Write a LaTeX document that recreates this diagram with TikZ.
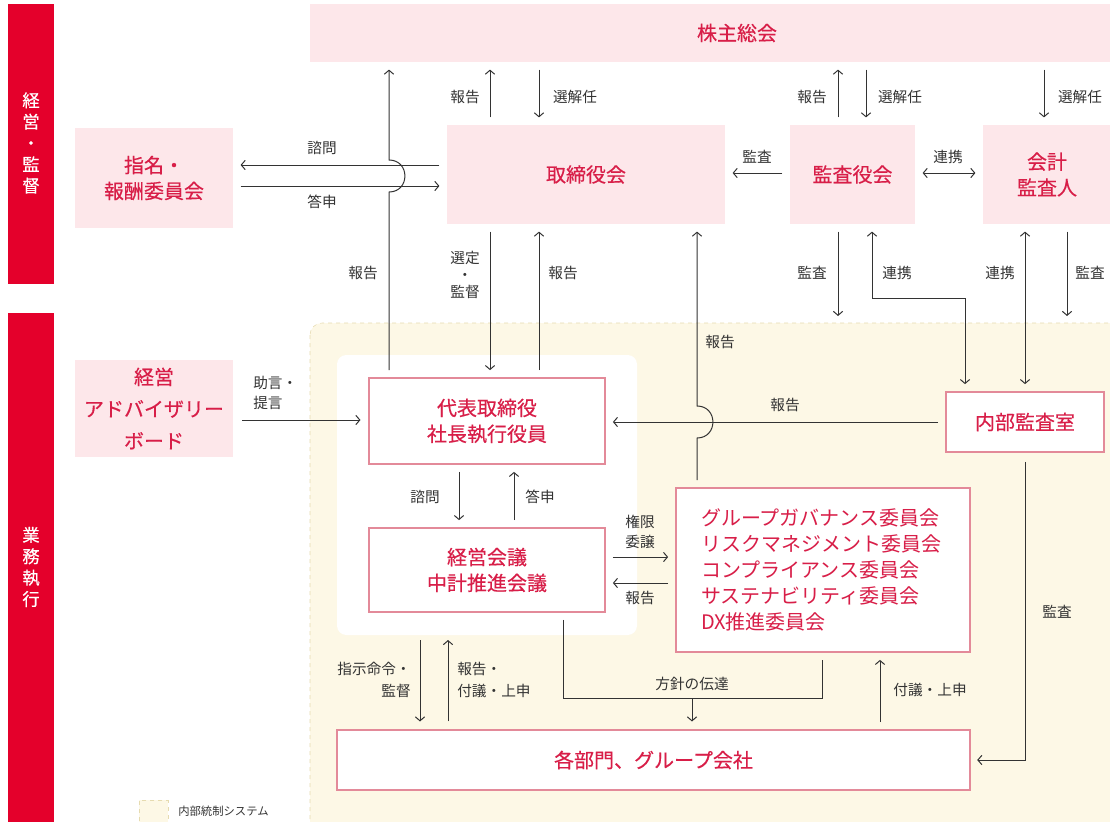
\documentclass[tikz,border=0pt]{standalone}
\usepackage{fontspec}
\setmainfont{Noto Sans CJK JP}
\newfontfamily\boxfont{Noto Sans CJK JP}[FakeBold=0.4]
\usetikzlibrary{arrows.meta}
\definecolor{barred}{HTML}{E4002B}
\definecolor{pinkfill}{HTML}{FDE7EA}
\definecolor{boxred}{HTML}{D81E48}
\definecolor{edgered}{HTML}{E38A99}
\definecolor{creamfill}{HTML}{FDF8E6}
\definecolor{creamedge}{HTML}{E6DBB0}
\definecolor{arrowgray}{HTML}{333333}

\begin{document}
\begin{tikzpicture}[x=0.75pt,y=-0.75pt,
	>={Straight Barb[length=3pt,width=7pt]},
	pinkbox/.style={rectangle,fill=pinkfill,inner sep=0pt,text=boxred,align=center,
		font=\boxfont\fontsize{15}{19.4}\selectfont},
	whitebox/.style={rectangle,draw=edgered,line width=0.8pt,fill=white,inner sep=0pt,
		text=boxred,align=center,font=\boxfont\fontsize{15}{19.4}\selectfont},
	sidetext/.style={text=white,align=center,font=\boxfont\fontsize{13}{16}\selectfont},
	lbl/.style={text=arrowgray,inner sep=0pt,align=center,font=\fontsize{11}{13}\selectfont},
	line/.style={draw=arrowgray,line width=0.75pt},
	gapped/.style={shorten <=5.5pt,shorten >=5.5pt}]

	\useasboundingbox (0,0) rectangle (1110,821);

	% background areas
	\draw[dashed,draw=creamedge,fill=creamfill,rounded corners=9pt] (310,323) rectangle (1140,850);
	\fill[white,rounded corners=7pt] (337,355) rectangle (637,635);
	\fill[barred] (8,4) rectangle (54,284);
	\fill[barred] (8,313) rectangle (54,830);
	\node[sidetext] (sideTop) at (31,143) {経\\営\\・\\監\\督};
	\node[sidetext] (sideBot) at (31,567) {業\\務\\執\\行};

	% boxes
	\node[pinkbox,minimum width=640.5pt,minimum height=43.5pt] (gm) at (737,33) {株主総会};
	\node[pinkbox,minimum width=118.5pt,minimum height=75pt] (nom) at (154,178) {指名・\\報酬委員会};
	\node[pinkbox,minimum width=208.5pt,minimum height=74.25pt] (board) at (586,174.5) {取締役会};
	\node[pinkbox,minimum width=93.75pt,minimum height=74.25pt] (kansa) at (852.5,174.5) {監査役会};
	\node[pinkbox,minimum width=96pt,minimum height=74.25pt] (acct) at (1047,174.5) {会計\\監査人};
	\node[pinkbox,minimum width=118.5pt,minimum height=72.75pt,font=\boxfont\fontsize{15}{24}\selectfont] (adv) at (154,408.5) {経営\\アドバイザリー\\ボード};
	\node[whitebox,minimum width=177pt,minimum height=64.5pt] (ceo) at (487,421) {代表取締役\\社長執行役員};
	\node[whitebox,minimum width=177pt,minimum height=63pt] (mtg) at (487,570) {経営会議\\中計推進会議};
	\node[whitebox,minimum width=220.5pt,minimum height=123pt,text width=183pt,align=left,
		font=\fontsize{15}{19.4}\selectfont] (com) at (823,570)
		{グループガバナンス委員会\\リスクマネジメント委員会\\コンプライアンス委員会\\サステナビリティ委員会\\DX推進委員会};
	\node[whitebox,minimum width=118.5pt,minimum height=45pt] (aud) at (1025,422) {内部監査室};
	\node[whitebox,minimum width=474.75pt,minimum height=45pt] (dept) at (653.5,760) {各部門、グループ会社};

	% free ends
	\coordinate (kansaOut) at (838,316);
	\coordinate (acctOut) at (1067,316);
	\coordinate (advOut) at (242,420);
	\coordinate (policy) at (692,698);
	\coordinate (cmdTop) at (420,640);
	\coordinate (repTop) at (448,640);

	% top level
	\draw[line,->,gapped] (ceo.north -| 389,0) -- (389,192) to[out=0,in=0,looseness=1.7] (389,160) -- (gm.south -| 389,0);
	\node[lbl] (lRep0) at (363,273) {報告};
	\draw[line,->,gapped] (board.west |- 0,165) -- (nom.east |- 0,165);
	\node[lbl] (lAsk0) at (322,148) {諮問};
	\draw[line,->,gapped] (nom.east |- 0,186) -- (board.west |- 0,186);
	\node[lbl] (lAns0) at (322,202) {答申};

	\draw[line,->,gapped] (board.north -| 490,0) -- (gm.south -| 490,0);
	\node[lbl] (lRep1) at (465,97) {報告};
	\draw[line,->,gapped] (gm.south -| 539,0) -- (board.north -| 539,0);
	\node[lbl] (lSel1) at (575,97) {選解任};
	\draw[line,->,gapped] (kansa.north -| 838,0) -- (gm.south -| 838,0);
	\node[lbl] (lRep2) at (812,97) {報告};
	\draw[line,->,gapped] (gm.south -| 866,0) -- (kansa.north -| 866,0);
	\node[lbl] (lSel2) at (900,97) {選解任};
	\draw[line,->,gapped] (gm.south -| 1044,0) -- (acct.north -| 1044,0);
	\node[lbl] (lSel3) at (1080,97) {選解任};

	\draw[line,->,gapped] (kansa.west |- 0,173) -- (board.east |- 0,173);
	\node[lbl] (lAud1) at (757,157) {監査};
	\draw[line,<->,gapped] (kansa.east |- 0,173) -- (acct.west |- 0,173);
	\node[lbl] (lLink1) at (948,157) {連携};

	% board to execution
	\draw[line,->,gapped] (board.south -| 490,0) -- (ceo.north -| 490,0);
	\node[lbl,font=\fontsize{11}{12.5}\selectfont] (lSup) at (465,275) {選定\\・\\監督};
	\draw[line,->,gapped] (ceo.north -| 539,0) -- (board.south -| 539,0);
	\node[lbl] (lRep3) at (563,273) {報告};
	\draw[line,->,gapped] (com.north -| 697,0) -- (697,438) to[out=0,in=0,looseness=1.7] (697,406) -- (board.south -| 697,0);
	\node[lbl] (lRep4) at (720,342) {報告};

	\draw[line,->,shorten <=5.5pt] (kansa.south -| kansaOut) -- (kansaOut);
	\node[lbl] (lAud2) at (812,273) {監査};
	\draw[line,<->,gapped] (kansa.south -| 872,0) -- (872,298) -- (965,298) -- (aud.north -| 965,0);
	\node[lbl] (lLink2) at (897,273) {連携};
	\draw[line,<->,gapped] (acct.south -| 1025,0) -- (aud.north -| 1025,0);
	\node[lbl] (lLink3) at (1000,273) {連携};
	\draw[line,->,shorten <=5.5pt] (acct.south -| acctOut) -- (acctOut);
	\node[lbl] (lAud3) at (1090,273) {監査};

	% execution
	\draw[line,->,shorten >=6pt] (advOut) -- (ceo.west |- advOut);
	\node[lbl,anchor=west,align=left,font=\fontsize{11}{15}\selectfont] (lAdv) at (253,393) {助言・\\提言};
	\draw[line,->,gapped] (aud.west) -- (ceo.east |- aud.west);
	\node[lbl] (lRep5) at (785,405) {報告};

	\draw[line,->,gapped] (ceo.south -| 459,0) -- (mtg.north -| 459,0);
	\node[lbl] (lAsk1) at (425,497) {諮問};
	\draw[line,->,gapped] (mtg.north -| 514,0) -- (ceo.south -| 514,0);
	\node[lbl] (lAns1) at (540,497) {答申};

	\draw[line,->,gapped] (mtg.east |- 0,557) -- (com.west |- 0,557);
	\node[lbl,font=\fontsize{11}{15}\selectfont] (lDel) at (640,532) {権限\\委譲};
	\draw[line,->,gapped] (com.west |- 0,583) -- (mtg.east |- 0,583);
	\node[lbl] (lRep6) at (640,598) {報告};

	\draw[line,gapped] (mtg.south -| 563,0) -- (563,698) -- (822,698) -- (com.south -| 822,0);
	\draw[line,->,shorten >=6pt] (policy) -- (dept.north -| policy);
	\node[lbl] (lPol) at (692,684) {方針の伝達};
	\draw[line,->,gapped] (dept.north -| 880,0) -- (com.south -| 880,0);
	\node[lbl] (lSub1) at (930,690) {付議・上申};

	\draw[line,->,shorten >=6pt] (cmdTop) -- (dept.north -| cmdTop);
	\node[lbl,anchor=east,align=right,font=\fontsize{11}{17}\selectfont] (lCmd) at (411,680) {指示命令・\\監督};
	\draw[line,->,shorten <=6pt] (dept.north -| repTop) -- (repTop);
	\node[lbl,anchor=west,align=left,font=\fontsize{11}{17}\selectfont] (lSub2) at (457,680) {報告・\\付議・上申};

	\draw[line,->,shorten <=7pt,shorten >=5pt] (aud.south) -- (aud.south |- dept.east) -- (dept.east);
	\node[lbl] (lAud4) at (1057,612) {監査};

	% legend
	\node[draw=creamedge,dashed,fill=creamfill,minimum width=21.75pt,minimum height=22pt] (legBox) at (153.5,815) {};
	\node[lbl,anchor=west,font=\fontsize{8.5}{10}\selectfont] (legText) at (178,811) {内部統制システム};

\end{tikzpicture}
\end{document}
